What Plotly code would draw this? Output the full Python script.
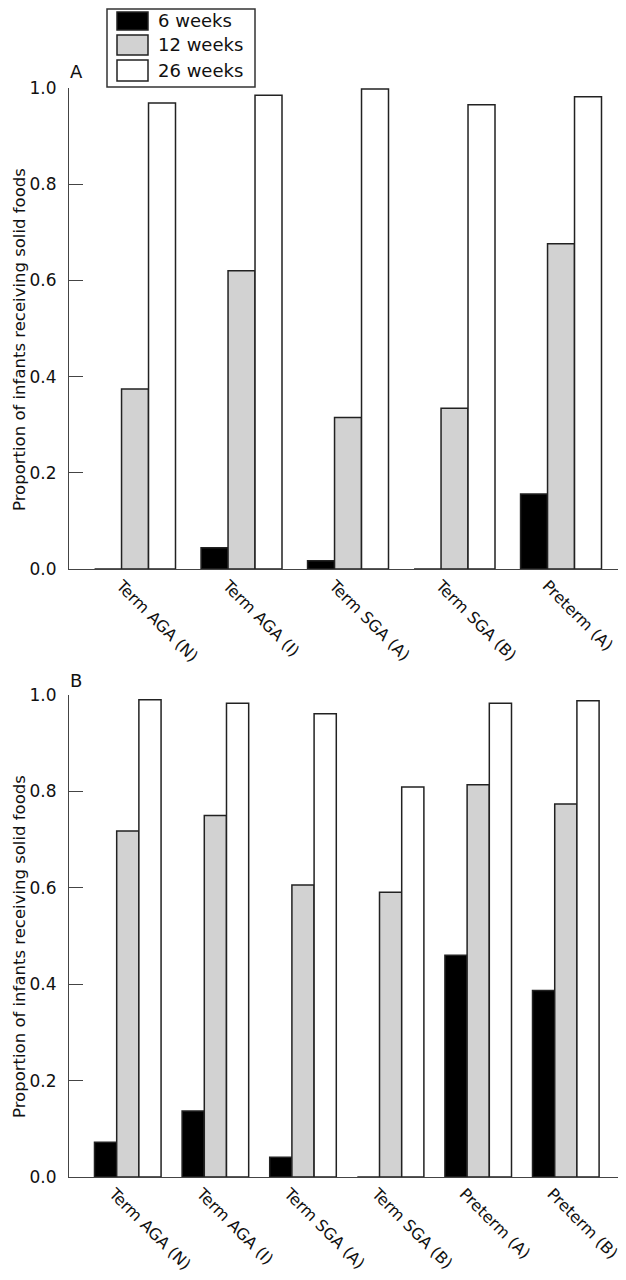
import plotly.graph_objects as go

# ---- data ----
cats_a = ["Term AGA (N)", "Term AGA (I)", "Term SGA (A)", "Term SGA (B)", "Preterm (A)"]
a_6w = [0.0, 0.044, 0.017, 0.0, 0.156]
a_12w = [0.374, 0.620, 0.315, 0.334, 0.676]
a_26w = [0.969, 0.985, 0.998, 0.965, 0.982]

cats_b = ["Term AGA (N)", "Term AGA (I)", "Term SGA (A)", "Term SGA (B)", "Preterm (A)", "Preterm (B)"]
b_6w = [0.072, 0.137, 0.041, 0.0, 0.460, 0.387]
b_12w = [0.718, 0.750, 0.606, 0.591, 0.814, 0.774]
b_26w = [0.990, 0.983, 0.961, 0.809, 0.983, 0.988]

series_names = ["6 weeks", "12 weeks", "26 weeks"]
yticks = [0.0, 0.2, 0.4, 0.6, 0.8, 1.0]
ytick_text = ["0.0", "0.2", "0.4", "0.6", "0.8", "1.0"]
ytitle = "Proportion of infants receiving solid foods"

# ---- style ----
WIN_W, WIN_H = 626, 1280
OFF = 8                      # default page body margin
W, H = WIN_W - OFF, WIN_H - OFF
FONT = "DejaVu Sans, sans-serif"
colors = ["#000000", "#d2d2d2", "#ffffff"]
LINE = "#222222"
TXT = "#111111"

fig = go.Figure()
for vals_list, xa, ya in [((a_6w, a_12w, a_26w), "x", "y"), ((b_6w, b_12w, b_26w), "x2", "y2")]:
    for name, vals, col in zip(series_names, vals_list, colors):
        fig.add_trace(go.Bar(
            x=list(range(len(vals))), y=vals, name=name, xaxis=xa, yaxis=ya,
            marker=dict(color=col, line=dict(color=LINE, width=1.5)),
            showlegend=False,
        ))


def px_x(p):
    return (p - OFF) / W


def px_y(p):
    return 1 - (p - OFF) / H


common_y = dict(
    range=[0, 1.0], tickvals=yticks, ticktext=ytick_text,
    ticks="inside", ticklen=14, tickwidth=1.2, tickcolor="#444",
    showline=True, linecolor="#444", linewidth=1.2, showgrid=False, zeroline=False,
    tickfont=dict(family=FONT, size=17, color=TXT),
    ticklabelstandoff=8, automargin=False,
)
common_x = dict(
    domain=[px_x(69), 1], tickangle=45, ticklabeloverflow="allow",
    ticklabelshift=-14, automargin=False,
    showline=True, linecolor="#444", linewidth=1.2, ticks="",
    showgrid=False, zeroline=False,
    tickfont=dict(family=FONT, size=16, color=TXT),
)

fig.update_layout(
    template="none",
    width=W, height=H,
    margin=dict(l=0, r=0, t=0, b=0, pad=0),
    paper_bgcolor="white", plot_bgcolor="white",
    barmode="group", bargap=0.24, bargroupgap=0,
    xaxis=dict(common_x, range=[-0.62, 4.61], anchor="y",
               tickvals=list(range(len(cats_a))), ticktext=cats_a),
    yaxis=dict(common_y, domain=[px_y(569), px_y(88)], anchor="x"),
    xaxis2=dict(common_x, range=[-0.671, 5.687], anchor="y2",
                tickvals=list(range(len(cats_b))), ticktext=cats_b),
    yaxis2=dict(common_y, domain=[px_y(1177), px_y(695)], anchor="x2"),
)

# y-axis titles
for yc in [340, 947]:
    fig.add_annotation(text=ytitle, x=px_x(19), y=px_y(yc), xref="paper", yref="paper",
                       showarrow=False, textangle=-90, xanchor="center", yanchor="middle",
                       font=dict(family=FONT, size=16.5, color=TXT))

# panel labels
for lab, y in [("A", 71), ("B", 680)]:
    fig.add_annotation(text=lab, x=px_x(76), y=px_y(y), xref="paper", yref="paper",
                       showarrow=False, font=dict(family=FONT, size=18, color=TXT),
                       xanchor="center", yanchor="middle")

# legend (manual box)
shapes = [dict(type="rect", xref="paper", yref="paper",
               x0=px_x(107), x1=px_x(255), y0=px_y(87), y1=px_y(OFF + 1),
               line=dict(color="#333", width=1.5), fillcolor="white")]
sw_y = [(12, 30), (35, 55), (60, 81)]
for (y0, y1), col, name in zip(sw_y, colors, series_names):
    shapes.append(dict(type="rect", xref="paper", yref="paper",
                       x0=px_x(117), x1=px_x(148), y0=px_y(y1), y1=px_y(y0),
                       line=dict(color=LINE, width=1.5), fillcolor=col))
    fig.add_annotation(text=name, x=px_x(156), y=px_y((y0 + y1) / 2), xref="paper", yref="paper",
                       showarrow=False, xanchor="left", yanchor="middle",
                       font=dict(family=FONT, size=18, color=TXT))
fig.update_layout(shapes=shapes)

fig.write_html("out.html")
